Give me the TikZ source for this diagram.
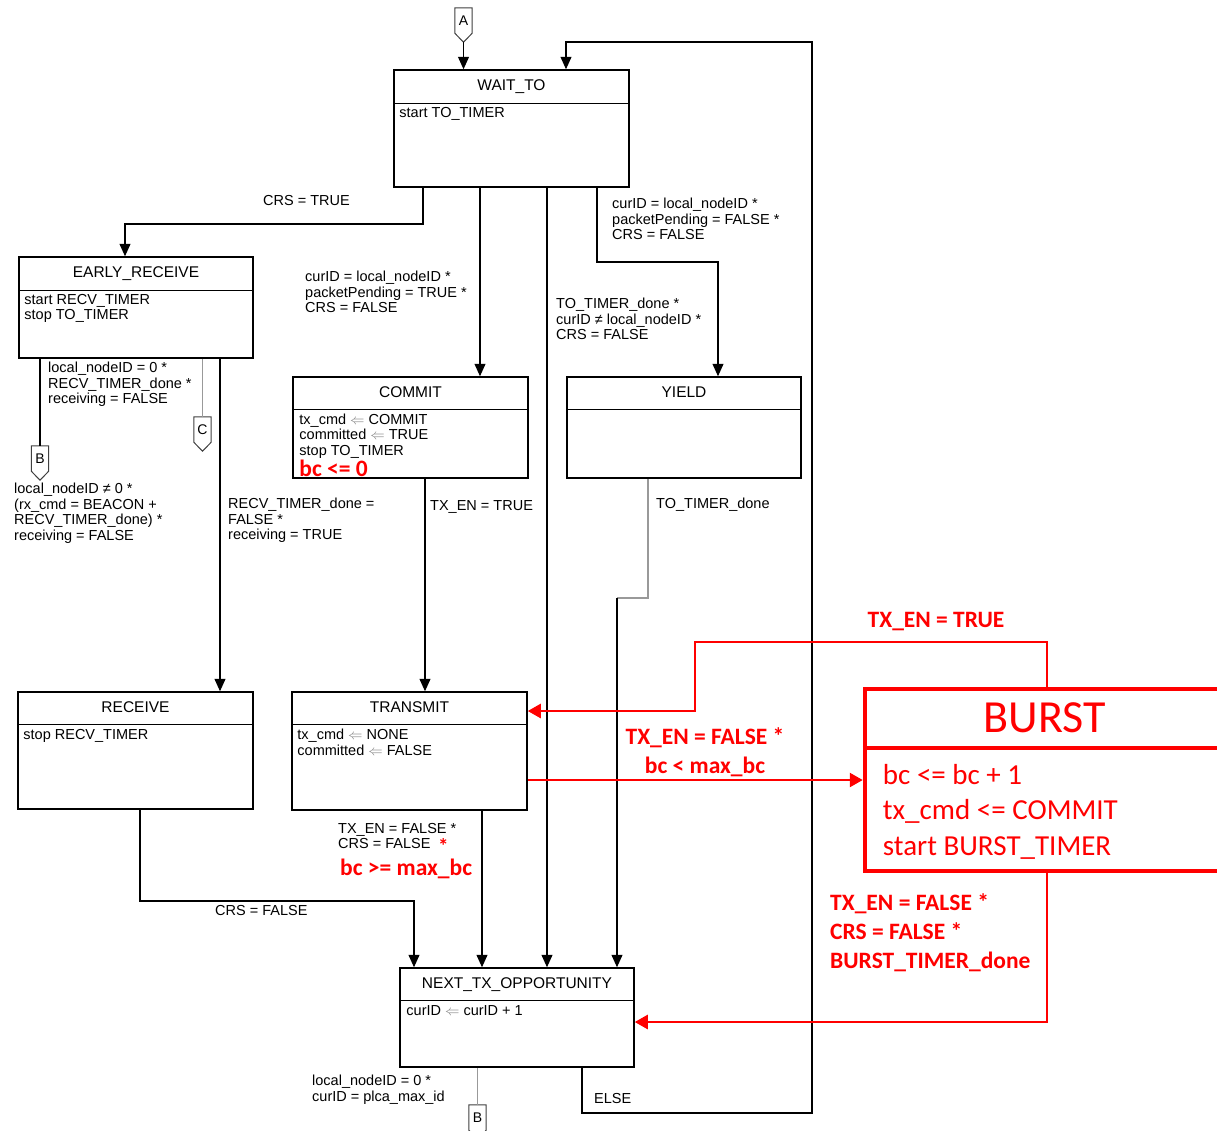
\documentclass[tikz,border=0pt]{standalone}
\usepackage{fontspec}
\setmainfont{Liberation Sans}
\newfontfamily\redfont{Carlito}
\usetikzlibrary{arrows.meta,calc}
\newcommand\getsarrow{{\color{gray}$\Leftarrow$}}
\newcommand\offpage[4]{%
  \node[offp] (#1) at (#2,#3) {#4};
  \draw[offpline] (#1.north west) -- (#1.north east) -- (#1.south east) -- ($(#1.south)+(0,9)$) -- (#1.south west) -- cycle;
  \coordinate (#1tip) at ($(#1.south)+(0,9)$);
}
\begin{document}
\begin{tikzpicture}[x=1pt,y=-1pt,
  st/.style={draw=black, line width=1.5pt, inner sep=0pt},
  stline/.style={line width=1.5pt},
  sttitle/.style={inner sep=0pt, text depth=0pt, font=\fontsize{15.5}{16}\selectfont},
  stbody/.style={anchor=north west, align=left, inner sep=0pt, font=\fontsize{14.5}{15.5}\selectfont},
  lbl/.style={anchor=north west, align=left, inner sep=0pt, font=\fontsize{14.5}{15.5}\selectfont},
  rlbl/.style={inner sep=0pt, text=red, font=\redfont\bfseries\fontsize{23.5}{29}\selectfont},
  offp/.style={inner sep=0pt, minimum width=17, minimum height=25, font=\fontsize{14}{15}\selectfont},
  offpline/.style={draw=black!75, line width=1pt},
  arr/.style={line width=1.2pt, -{Triangle[length=12.5pt,width=11pt]}},
  garr/.style={line width=1.2pt, draw=black!40},
  rarr/.style={draw=red, line width=2.5pt, -{Triangle[length=13pt,width=14pt]}},
  bst/.style={draw=red, line width=4.5pt, inner sep=0pt}
]
\useasboundingbox (0,0) rectangle (1217,1130);
\fill[white] (0,0) rectangle (1217,1130);
\clip (0,0) rectangle (1217,1130);

% ---------- states ----------
\node[st, minimum width=235, minimum height=117] (wait) at (511.5,128.5) {};
\draw[stline] ($(wait.north west)+(0,34)$) -- ($(wait.north east)+(0,34)$);
\node[sttitle] (waitT) at ($(wait.north)+(0,16)$) {WAIT\_TO};
\node[stbody] (waitB) at ($(wait.north west)+(6,37.5)$) {start TO\_TIMER};

\node[st, minimum width=234, minimum height=101] (early) at (136,307.5) {};
\draw[stline] ($(early.north west)+(0,34)$) -- ($(early.north east)+(0,34)$);
\node[sttitle] (earlyT) at ($(early.north)+(0,16)$) {EARLY\_RECEIVE};
\node[stbody] (earlyB) at ($(early.north west)+(6,37.5)$) {start RECV\_TIMER\\stop TO\_TIMER};

\node[st, minimum width=235, minimum height=101] (commit) at (410.5,427.5) {};
\draw[stline] ($(commit.north west)+(0,33)$) -- ($(commit.north east)+(0,33)$);
\node[sttitle] (commitT) at ($(commit.north)+(0,16)$) {COMMIT};
\node[stbody] (commitB) at ($(commit.north west)+(7,37.5)$) {tx\_cmd \getsarrow{} COMMIT\\committed \getsarrow{} TRUE\\stop TO\_TIMER};
\node[rlbl, anchor=north west] (commitR) at ($(commit.north west)+(7,84)$) {bc <= 0};

\node[st, minimum width=234, minimum height=101] (yield) at (684,427.5) {};
\draw[stline] ($(yield.north west)+(0,33)$) -- ($(yield.north east)+(0,33)$);
\node[sttitle] (yieldT) at ($(yield.north)+(0,16)$) {YIELD};

\node[st, minimum width=235, minimum height=117] (receive) at (135.5,750.5) {};
\draw[stline] ($(receive.north west)+(0,33)$) -- ($(receive.north east)+(0,33)$);
\node[sttitle] (receiveT) at ($(receive.north)+(0,16)$) {RECEIVE};
\node[stbody] (receiveB) at ($(receive.north west)+(6,38)$) {stop RECV\_TIMER};

\node[st, minimum width=235, minimum height=118] (transmit) at (409.5,751) {};
\draw[stline] ($(transmit.north west)+(0,33)$) -- ($(transmit.north east)+(0,33)$);
\node[sttitle] (transmitT) at ($(transmit.north)+(0,16)$) {TRANSMIT};
\node[stbody] (transmitB) at ($(transmit.north west)+(6,38)$) {tx\_cmd \getsarrow{} NONE\\committed \getsarrow{} FALSE};

\node[st, minimum width=234, minimum height=99] (nexttx) at (517,1017.5) {};
\draw[stline] ($(nexttx.north west)+(0,33)$) -- ($(nexttx.north east)+(0,33)$);
\node[sttitle] (nexttxT) at ($(nexttx.north)+(0,16)$) {NEXT\_TX\_OPPORTUNITY};
\node[stbody] (nexttxB) at ($(nexttx.north west)+(7,38)$) {curID \getsarrow{} curID + 1};

\node[bst, minimum width=375, minimum height=182] (burst) at (1052.5,780) {};
\draw[draw=red, line width=4.5pt] ($(burst.north west)+(0,61)$) -- ($(burst.north east)+(0,61)$);
\node[inner sep=0pt, text=red, font=\redfont\fontsize{46}{50}\selectfont] (burstT) at ($(burst.north west)+(182,31)$) {BURST};
\node[anchor=north west, align=left, inner sep=0pt, text=red, font=\redfont\fontsize{29}{35.5}\selectfont] (burstB) at ($(burst.north west)+(20,77)$) {bc <= bc + 1\\tx\_cmd <= COMMIT\\start BURST\_TIMER};

% ---------- off-page connectors ----------
\offpage{A}{463.5}{20.5}{A}
\offpage{Bl}{40}{458.5}{B}
\offpage{C}{202.5}{429.5}{C}
\offpage{Bb}{477.5}{1117.5}{B}

% ---------- black transitions ----------
\draw[arr] (Atip) -- (wait.north -| Atip);
\draw[arr] (nexttx.south -| 582,0) -- (582,1113) -- (812,1113) -- (812,42) -- (566,42) -- (wait.north -| 566,0);
\draw[arr] (wait.south -| 423,0) -- (423,224) -- (125,224) -- (early.north -| 125,0);
\draw[arr] (wait.south -| 480,0) -- (commit.north -| 480,0);
\draw[arr] (wait.south -| 547,0) -- (nexttx.north -| 547,0);
\draw[arr] (wait.south -| 597,0) -- (597,262) -- (718,262) -- (yield.north -| 718,0);
\draw[line width=1.2pt] (early.south -| Bl.north) -- (Bl.north);
\draw[garr] (early.south -| C.north) -- (C.north);
\draw[arr] (early.south -| 220,0) -- (receive.north -| 220,0);
\draw[arr] (commit.south -| 425,0) -- (transmit.north -| 425,0);
\coordinate (ybend) at (617,598);
\draw[garr] (yield.south -| 648,0) -- (648,598) -- (ybend);
\draw[arr] (ybend) -- (nexttx.north -| ybend);
\draw[arr] (receive.south -| 140,0) -- (140,901) -- (414,901) -- (nexttx.north -| 414,0);
\draw[arr] (transmit.south -| 482,0) -- (nexttx.north -| 482,0);
\draw[garr] (nexttx.south -| Bb.north) -- (Bb.north);

% ---------- red transitions ----------
\draw[rarr] (transmit.east |- 0,780) -- (burst.west |- 0,780);
\draw[rarr] (burst.north -| 1047,0) -- (1047,642) -- (695,642) -- (695,711) -- (transmit.east |- 0,711);
\draw[rarr] (burst.south -| 1047,0) -- (1047,1022) -- (nexttx.east |- 0,1022);

% ---------- labels ----------
\node[lbl] (l1) at (263,195) {CRS = TRUE};
\node[lbl] (l2) at (305,271) {curID = local\_nodeID *\\packetPending = TRUE *\\CRS = FALSE};
\node[lbl] (l3) at (612,198) {curID = local\_nodeID *\\packetPending = FALSE *\\CRS = FALSE};
\node[lbl] (l4) at (556,298) {TO\_TIMER\_done *\\curID ≠ local\_nodeID *\\CRS = FALSE};
\node[lbl] (l5) at (48,362) {local\_nodeID = 0 *\\RECV\_TIMER\_done *\\receiving = FALSE};
\node[lbl] (l6) at (14,483) {local\_nodeID ≠ 0 *\\(rx\_cmd = BEACON +\\RECV\_TIMER\_done) *\\receiving = FALSE};
\node[lbl] (l7) at (228,498) {RECV\_TIMER\_done =\\FALSE *\\receiving = TRUE};
\node[lbl] (l8) at (430,500) {TX\_EN = TRUE};
\node[lbl] (l9) at (656,498) {TO\_TIMER\_done};
\node[lbl] (l10) at (215,905) {CRS = FALSE};
\node[lbl] (l11) at (338,823) {TX\_EN = FALSE *\\CRS = FALSE {\color{red}\redfont\bfseries\fontsize{21}{15.5}\selectfont\,\raisebox{-5pt}[0pt][0pt]{*}}};
\node[rlbl, anchor=north west] (l11r) at (340,859) {bc >= max\_bc};
\node[lbl] (l12) at (312,1075) {local\_nodeID = 0 *\\curID = plca\_max\_id};
\node[lbl] (l13) at (594,1093) {ELSE};

\node[rlbl, anchor=north] (r1) at (936,612.5) {TX\_EN = TRUE};
\node[rlbl, anchor=north, align=center] (r2) at (705,727.5) {TX\_EN = FALSE *\\bc < max\_bc};
\node[rlbl, anchor=north west, align=left] (r3) at (830,893.5) {TX\_EN = FALSE *\\CRS = FALSE *\\BURST\_TIMER\_done};
\end{tikzpicture}
\end{document}
